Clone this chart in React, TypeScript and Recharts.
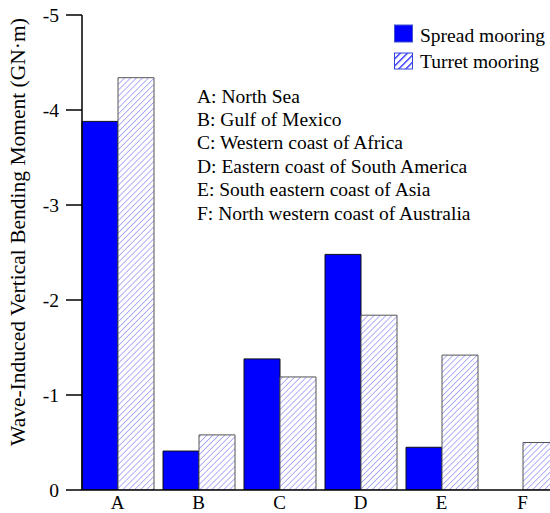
import { BarChart, Bar, XAxis, YAxis } from 'recharts';

// Wave-induced vertical bending moment, spread vs turret mooring, by region

const regions = ['A', 'B', 'C', 'D', 'E', 'F'];
const spreadMooring = [-3.88, -0.41, -1.38, -2.48, -0.45, 0];
const turretMooring = [-4.34, -0.58, -1.19, -1.84, -1.42, -0.5];
const yTicks = [0, -1, -2, -3, -4, -5];
const regionNotes = [
  'A: North Sea',
  'B: Gulf of Mexico',
  'C: Western coast of Africa',
  'D: Eastern coast of South America',
  'E: South eastern coast of Asia',
  'F: North western coast of Australia',
];

const data = regions.map((r, i) => ({
  name: r,
  spread: spreadMooring[i],
  turret: turretMooring[i],
}));

const font = '"Liberation Serif", "Times New Roman", serif';

export default function App() {
  return (
    <div
      style={{
        position: 'fixed',
        left: 0,
        top: 0,
        width: 550,
        height: 513,
        overflow: 'hidden',
        background: '#fff',
        fontFamily: font,
      }}
    >
      <svg width={0} height={0} style={{ position: 'absolute' }}>
        <defs>
          <pattern
            id="hatch"
            width={4.2}
            height={4.2}
            patternUnits="userSpaceOnUse"
            patternTransform="rotate(45)"
          >
            <rect width={4.2} height={4.2} fill="#fff" />
            <line x1={0} y1={0} x2={0} y2={4.2} stroke="#6060f0" strokeWidth={1} />
          </pattern>
          <pattern
            id="hatchLegend"
            width={5}
            height={5}
            patternUnits="userSpaceOnUse"
            patternTransform="rotate(45)"
          >
            <rect width={5} height={5} fill="#fff" />
            <line x1={0} y1={0} x2={0} y2={5} stroke="#1a1aff" strokeWidth={2.6} />
          </pattern>
        </defs>
      </svg>

      <div style={{ position: 'absolute', left: 0, top: 0 }}>
        <BarChart
          width={580}
          height={513}
          data={data}
          margin={{ top: 15, right: 17, bottom: 0, left: 0 }}
          barCategoryGap={5}
          barGap={0}
        >
          <XAxis
            dataKey="name"
            height={23}
            tickLine={false}
            axisLine={{ stroke: '#000', strokeWidth: 1.5 }}
            tick={{ fill: '#000', fontSize: 19, fontFamily: font }}
            tickSize={0}
            tickMargin={6}
            padding={{ left: -5, right: 0 }}
            interval={0}
          />
          <YAxis
            type="number"
            domain={[-5, 0]}
            reversed
            ticks={yTicks}
            width={82}
            tickSize={16}
            tickMargin={7}
            axisLine={{ stroke: '#000', strokeWidth: 1.5 }}
            tickLine={{ stroke: '#000', strokeWidth: 1.5 }}
            tick={{ fill: '#000', fontSize: 19.5, fontFamily: font }}
            allowDataOverflow
          />
          <Bar
            dataKey="spread"
            fill="#0000ff"
            stroke="#111"
            strokeWidth={1}
            isAnimationActive={false}
          />
          <Bar
            dataKey="turret"
            fill="url(#hatch)"
            stroke="#555"
            strokeWidth={1}
            isAnimationActive={false}
          />
        </BarChart>
      </div>

      <svg
        width={550}
        height={513}
        style={{ position: 'absolute', left: 0, top: 0, pointerEvents: 'none' }}
      >
        <text
          transform="translate(25, 232) rotate(-90)"
          textAnchor="middle"
          fontSize={21.5}
          fontFamily={font}
          fill="#000"
        >
          Wave-Induced Vertical Bending Moment (GN·m)
        </text>

        <rect x={394.5} y={25} width={18} height={17} fill="#0000ff" stroke="#4455cc" />
        <text x={420} y={42} fontSize={19.5} fontFamily={font} fill="#000">
          Spread mooring
        </text>
        <rect x={394.5} y={53} width={18} height={16} fill="url(#hatchLegend)" stroke="#3344dd" />
        <text x={420} y={67.5} fontSize={19.5} fontFamily={font} fill="#000">
          Turret mooring
        </text>

        {regionNotes.map((t, i) => (
          <text
            key={t}
            x={197}
            y={102.5 + i * 23.4}
            fontSize={19.5}
            fontFamily={font}
            fill="#000"
          >
            {t}
          </text>
        ))}
      </svg>
    </div>
  );
}
